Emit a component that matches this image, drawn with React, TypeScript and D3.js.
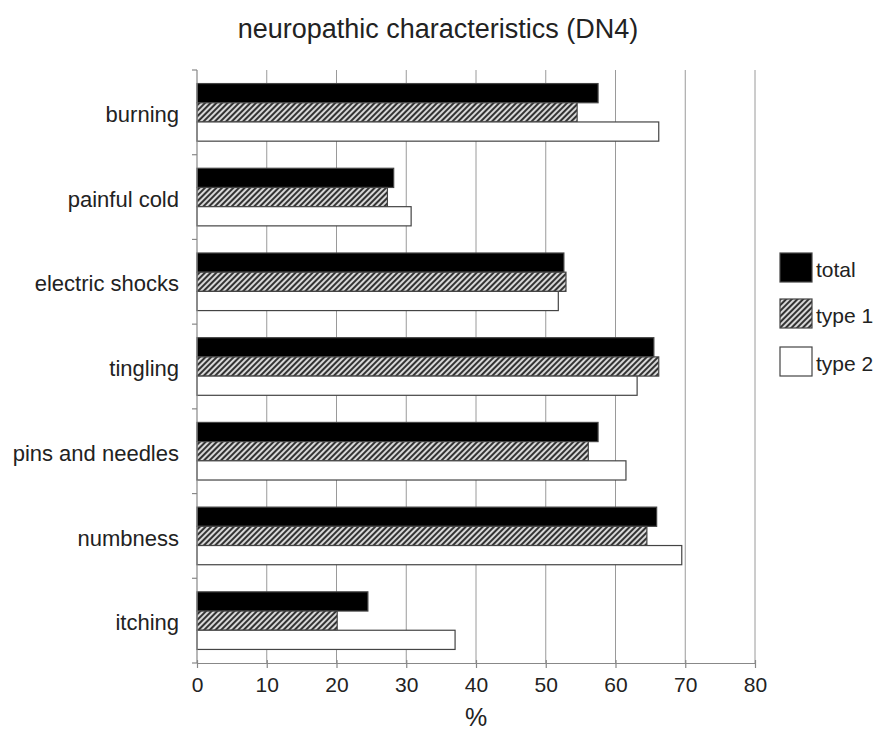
import { useEffect, useRef } from 'react'
import * as d3 from 'd3'

const categories = ['burning', 'painful cold', 'electric shocks', 'tingling', 'pins and needles', 'numbness', 'itching']
const seriesNames = ['total', 'type 1', 'type 2']
const totalValues = [57.5, 28.2, 52.6, 65.5, 57.5, 65.9, 24.5]
const type1Values = [54.5, 27.3, 52.9, 66.2, 56.1, 64.5, 20.1]
const type2Values = [66.2, 30.7, 51.8, 63.1, 61.5, 69.5, 37.0]
const xTicks = [0, 10, 20, 30, 40, 50, 60, 70, 80]

const FONT = '"Liberation Sans", Arial, Helvetica, sans-serif'

export default function App() {
  const svgRef = useRef<SVGSVGElement>(null)

  useEffect(() => {
    if (!svgRef.current) return
    const width = 880
    const height = 733
    const margin = { top: 70, right: 125, bottom: 70, left: 197 }
    const innerWidth = width - margin.left - margin.right
    const innerHeight = height - margin.top - margin.bottom

    const svg = d3.select(svgRef.current)
    svg.selectAll('*').remove()
    svg.attr('width', width).attr('height', height)

    // hatch pattern for type 1
    const defs = svg.append('defs')
    const pat = defs.append('pattern')
      .attr('id', 'hatch')
      .attr('patternUnits', 'userSpaceOnUse')
      .attr('width', 4)
      .attr('height', 4)
      .attr('patternTransform', 'rotate(45)')
    pat.append('rect').attr('width', 4).attr('height', 4).attr('fill', '#d8d8d8')
    pat.append('rect').attr('width', 2).attr('height', 4).attr('fill', '#333')

    const x = d3.scaleLinear().domain([0, 80]).range([0, innerWidth])
    const y = d3.scaleBand<string>()
      .domain(categories)
      .range([0, innerHeight])
      .paddingInner(0.32)
      .paddingOuter(0.16)
    const ySub = d3.scaleBand<string>()
      .domain(seriesNames)
      .range([0, y.bandwidth()])

    const fills = ['#000', 'url(#hatch)', '#fff']
    const seriesValues = [totalValues, type1Values, type2Values]

    svg.append('text')
      .attr('x', 438)
      .attr('y', 38)
      .attr('text-anchor', 'middle')
      .style('font-family', FONT)
      .style('font-size', '27px')
      .attr('fill', '#222')
      .text('neuropathic characteristics (DN4)')

    const g = svg.append('g').attr('transform', `translate(${margin.left},${margin.top})`)

    // vertical gridlines
    g.append('g')
      .selectAll('line')
      .data(xTicks.slice(1))
      .join('line')
      .attr('x1', d => x(d))
      .attr('x2', d => x(d))
      .attr('y1', 0)
      .attr('y2', innerHeight)
      .attr('stroke', '#9a9a9a')
      .attr('stroke-width', 1)

    // bars
    seriesNames.forEach((s, si) => {
      g.append('g')
        .selectAll('rect')
        .data(categories)
        .join('rect')
        .attr('x', 0)
        .attr('y', c => (y(c) ?? 0) + (ySub(s) ?? 0))
        .attr('width', (_, i) => x(seriesValues[si][i]))
        .attr('height', ySub.bandwidth())
        .attr('fill', fills[si])
        .attr('stroke', '#444')
        .attr('stroke-width', 1.2)
    })

    // left axis
    const step = y.step()
    const yAxis = g.append('g')
    yAxis.append('line')
      .attr('x1', 0).attr('x2', 0).attr('y1', 0).attr('y2', innerHeight)
      .attr('stroke', '#888').attr('stroke-width', 1.2)
    yAxis.selectAll('line.tick')
      .data(d3.range(categories.length + 1))
      .join('line')
      .attr('class', 'tick')
      .attr('x1', -5).attr('x2', 0)
      .attr('y1', i => i * step).attr('y2', i => i * step)
      .attr('stroke', '#888').attr('stroke-width', 1.2)
    yAxis.selectAll('text')
      .data(categories)
      .join('text')
      .attr('x', -18)
      .attr('y', c => (y(c) ?? 0) + y.bandwidth() / 2 + 2)
      .attr('dy', '0.35em')
      .attr('text-anchor', 'end')
      .style('font-family', FONT)
      .style('font-size', '22px')
      .attr('fill', '#222')
      .text(c => c)

    // bottom axis
    const xAxis = g.append('g')
      .attr('transform', `translate(0,${innerHeight})`)
      .call(d3.axisBottom(x).tickValues(xTicks).tickSize(5).tickSizeOuter(0))
    xAxis.select('.domain').attr('stroke', '#888').attr('stroke-width', 1.2)
    xAxis.selectAll('.tick line').attr('stroke', '#888').attr('stroke-width', 1.2).attr('y1', -3)
    xAxis.selectAll('.tick text')
      .style('font-family', FONT)
      .style('font-size', '21px')
      .attr('fill', '#222')
      .attr('y', 14)

    g.append('text')
      .attr('x', x(40))
      .attr('y', innerHeight + 63)
      .attr('text-anchor', 'middle')
      .style('font-family', FONT)
      .style('font-size', '25px')
      .attr('fill', '#222')
      .text('%')

    // legend
    const legend = svg.append('g').attr('transform', 'translate(780,253)')
    seriesNames.forEach((s, i) => {
      const ly = [0, 46, 94][i]
      legend.append('rect')
        .attr('x', 0).attr('y', ly)
        .attr('width', 32).attr('height', 29)
        .attr('fill', fills[i])
        .attr('stroke', '#444').attr('stroke-width', 1.2)
      legend.append('text')
        .attr('x', 36).attr('y', ly + 24)
        .style('font-family', FONT)
        .style('font-size', '21px')
        .attr('fill', '#222')
        .text(s)
    })
  }, [])

  return (
    <svg
      ref={svgRef}
      style={{ position: 'absolute', left: 0, top: 0, display: 'block', background: '#fff' }}
    />
  )
}
